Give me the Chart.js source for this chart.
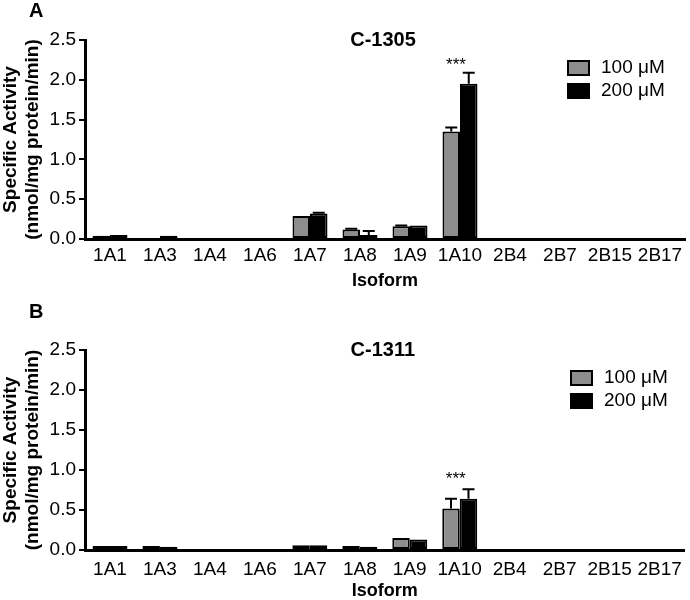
<!DOCTYPE html>
<html><head><meta charset="utf-8">
<script src="https://cdn.jsdelivr.net/npm/chart.js@4.4.0/dist/chart.umd.min.js"></script>
<style>html,body{margin:0;padding:0;background:#fff;} .c{width:690px;height:300px;position:relative;}</style>
</head><body>
<div class="c"><canvas id="ca" width="690" height="300"></canvas></div>
<div class="c"><canvas id="cb" width="690" height="300"></canvas></div>
<script>
// ---- data ----
const isoforms = ['1A1','1A3','1A4','1A6','1A7','1A8','1A9','1A10','2B4','2B7','2B15','2B17'];
const seriesLabels = ['100 \u03bcM', '200 \u03bcM'];
const yTitleLines = ['Specific Activity', '(nmol/mg protein/min)'];

// Panel A: C-1305
const c1305_100 = [0.04, 0, 0, 0, 0.29, 0.12, 0.16, 1.35, 0, 0, 0, 0];
const c1305_100err = [0, 0, 0, 0, 0, 0.01, 0.01, 0.05, 0, 0, 0, 0];
const c1305_200 = [0.05, 0.04, 0, 0, 0.32, 0.05, 0.17, 1.95, 0, 0, 0, 0];
const c1305_200err = [0, 0, 0, 0, 0.01, 0.05, 0, 0.14, 0, 0, 0, 0];

// Panel B: C-1311
const c1311_100 = [0.05, 0.05, 0, 0, 0.06, 0.05, 0.15, 0.52, 0, 0, 0, 0];
const c1311_100err = [0, 0, 0, 0, 0, 0, 0, 0.12, 0, 0, 0, 0];
const c1311_200 = [0.05, 0.04, 0, 0, 0.06, 0.04, 0.13, 0.64, 0, 0, 0, 0];
const c1311_200err = [0, 0, 0, 0, 0, 0, 0, 0.12, 0, 0, 0, 0];

const sigIndex = 7;          // 1A10
const sigText = '***';
const sigLevelA = 2.24;
const sigLevelB = 0.95;

// ---- style ----
const FONT = "'Liberation Sans', Arial, Helvetica, sans-serif";
const GRAY = '#8d8d8d';

const annot = {
  id: 'annot',
  afterDatasetsDraw(chart, args, o) {
    const ctx = chart.ctx, ys = chart.scales.y, xs = chart.scales.x;
    ctx.save();
    ctx.strokeStyle = '#000';
    ctx.lineWidth = 2;
    o.errors.forEach((errs, di) => {
      const meta = chart.getDatasetMeta(di);
      const vals = chart.data.datasets[di].data;
      meta.data.forEach((bar, i) => {
        const e = errs[i];
        if (!e) return;
        const yTop = ys.getPixelForValue(vals[i] + e);
        ctx.beginPath();
        ctx.moveTo(bar.x, bar.y);
        ctx.lineTo(bar.x, yTop);
        ctx.moveTo(bar.x - 6, yTop);
        ctx.lineTo(bar.x + 6, yTop);
        ctx.stroke();
      });
    });
    // significance stars
    ctx.fillStyle = '#000';
    ctx.font = '17px ' + FONT;
    ctx.textAlign = 'center';
    ctx.textBaseline = 'alphabetic';
    const sx = xs.getPixelForValue(o.sigIndex) - 4;
    const sy = ys.getPixelForValue(o.sigLevel) + 9.5;
    ctx.fillText(o.sigText, sx, sy);
    ctx.restore();
  },
  afterDraw(chart, args, o) {
    const ctx = chart.ctx, ca = chart.chartArea;
    ctx.save();
    ctx.fillStyle = '#000';
    // panel letter
    ctx.font = 'bold 20px ' + FONT;
    ctx.textAlign = 'left';
    ctx.textBaseline = 'middle';
    ctx.fillText(o.letter, o.letterX, o.letterY);
    // title
    ctx.font = 'bold 20px ' + FONT;
    ctx.textAlign = 'center';
    ctx.fillText(o.title, (ca.left + ca.right) / 2 - 2, o.titleY);
    // legend
    const L = o.legend;
    chart.data.datasets.forEach((ds, i) => {
      const by = L.y + i * L.dy;
      ctx.fillStyle = ds.backgroundColor;
      ctx.fillRect(L.x, by, 23, 16);
      ctx.strokeStyle = '#000';
      ctx.lineWidth = 2;
      ctx.strokeRect(L.x + 1, by + 1, 21, 14);
      ctx.fillStyle = '#000';
      ctx.font = '19px ' + FONT;
      ctx.textAlign = 'left';
      ctx.textBaseline = 'middle';
      ctx.fillText(ds.label, L.x + 34, by + 8);
    });
    ctx.restore();
  }
};

function makeChart(id, cfg) {
  const dsBase = { borderColor: '#000', borderWidth: 2, borderSkipped: false, categoryPercentage: 0.7, barPercentage: 1.0 };
  return new Chart(document.getElementById(id), {
    type: 'bar',
    data: {
      labels: isoforms,
      datasets: [
        Object.assign({ label: seriesLabels[0], data: cfg.v100, backgroundColor: GRAY }, dsBase),
        Object.assign({ label: seriesLabels[1], data: cfg.v200, backgroundColor: '#000' }, dsBase)
      ]
    },
    options: {
      responsive: false,
      animation: false,
      devicePixelRatio: 1,
      layout: { padding: { left: 0, right: 5, top: cfg.top, bottom: 0 } },
      plugins: {
        legend: { display: false },
        tooltip: { enabled: false },
        annot: {
          errors: [cfg.e100, cfg.e200],
          sigIndex: sigIndex, sigText: sigText, sigLevel: cfg.sigLevel,
          letter: cfg.letter, letterX: 29, letterY: cfg.letterY,
          title: cfg.title, titleY: cfg.top,
          legend: cfg.legend
        }
      },
      scales: {
        x: {
          grid: { display: false, drawTicks: false },
          border: { display: true, color: '#000', width: 3 },
          ticks: { color: '#000', font: { family: FONT, size: 19 }, padding: cfg.xPad, maxRotation: 0, autoSkip: false },
          title: { display: true, text: 'Isoform', color: '#000', font: { family: FONT, size: 18, weight: 'bold', lineHeight: 1 }, padding: { top: 0, bottom: cfg.xTitlePad } },
          afterFit: s => { s.height = cfg.xH; }
        },
        y: {
          min: 0, max: 2.5,
          ticks: { stepSize: 0.5, color: '#000', font: { family: FONT, size: 19 }, padding: 3, callback: v => Number(v).toFixed(1) },
          grid: { drawOnChartArea: false, color: '#000', lineWidth: 2, tickLength: 6, tickWidth: 2 },
          border: { color: '#000', width: 3 },
          title: { display: true, text: yTitleLines, color: '#000', font: { family: FONT, size: 19, weight: 'bold', lineHeight: 1.15 }, padding: { top: 0, bottom: 0 } },
          afterFit: s => { s.width = 85; }
        }
      }
    },
    plugins: [annot]
  });
}

makeChart('ca', {
  v100: c1305_100, v200: c1305_200, e100: c1305_100err, e200: c1305_200err,
  top: 40, xH: 61, xPad: 5, xTitlePad: 10, sigLevel: sigLevelA,
  letter: 'A', letterY: 11, title: 'C-1305',
  legend: { x: 567, y: 60, dy: 23 }
});
makeChart('cb', {
  v100: c1311_100, v200: c1311_200, e100: c1311_100err, e200: c1311_200err,
  top: 50, xH: 50, xPad: 8, xTitlePad: 0, sigLevel: sigLevelB,
  letter: 'B', letterY: 12, title: 'C-1311',
  legend: { x: 570, y: 70, dy: 23 }
});
</script>
</body></html>
